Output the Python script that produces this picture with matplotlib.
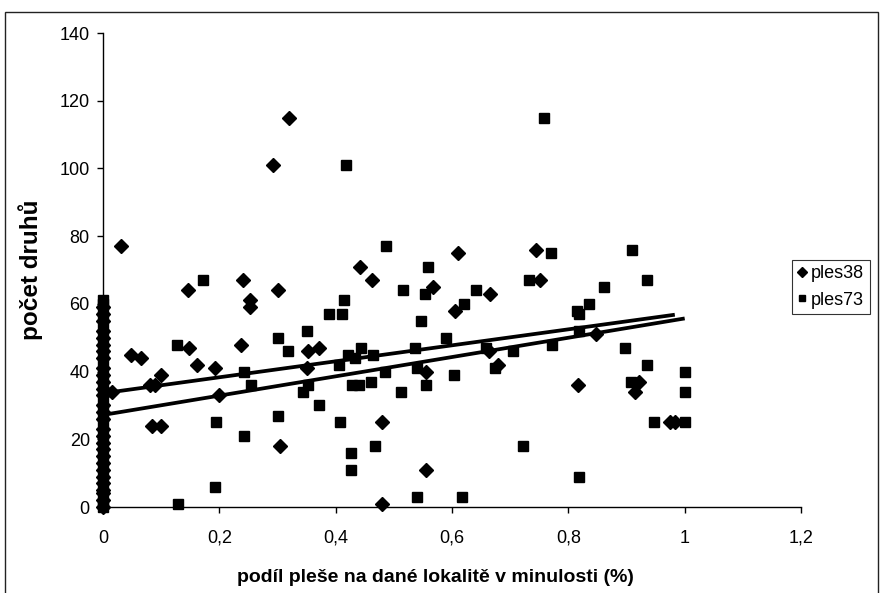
import numpy as np
import matplotlib.pyplot as plt
from matplotlib.patches import Rectangle
from matplotlib.ticker import FuncFormatter

plt.rcParams['font.family'] = ['Liberation Sans', 'DejaVu Sans']

# ples38 - sites with x = 0 and the rest
x38_zero = [0] * 29
y38_zero = [0, 2, 4, 5, 7, 9, 11, 13, 15, 17, 19, 21, 23, 26, 28, 30, 33, 35,
            37, 39, 41, 44, 46, 48, 50, 52, 55, 57, 59]
x38 = [0.015, 0.031, 0.048, 0.065, 0.080, 0.090, 0.084, 0.100, 0.100, 0.146,
       0.148, 0.162, 0.192, 0.200, 0.237, 0.241, 0.253, 0.253, 0.293, 0.300,
       0.304, 0.320, 0.350, 0.352, 0.372, 0.442, 0.462, 0.479, 0.480, 0.555,
       0.556, 0.568, 0.605, 0.610, 0.663, 0.665, 0.679, 0.744, 0.751, 0.816,
       0.848, 0.914, 0.922, 0.974, 0.983]
y38 = [34, 77, 45, 44, 36, 36, 24, 24, 39, 64,
       47, 42, 41, 33, 48, 67, 61, 59, 101, 64,
       18, 115, 41, 46, 47, 71, 67, 25, 1, 11,
       40, 65, 58, 75, 46, 63, 42, 76, 67, 36,
       51, 34, 37, 25, 25]

# ples73
x73_zero = [0] * 30
y73_zero = [0, 1, 3, 6, 8, 10, 12, 14, 16, 18, 20, 22, 25, 27, 29, 31, 34, 36,
            38, 40, 43, 45, 47, 49, 51, 53, 56, 58, 60, 61]
x73 = [0.127, 0.129, 0.172, 0.192, 0.195, 0.243, 0.243, 0.254, 0.300, 0.300,
       0.318, 0.343, 0.351, 0.353, 0.371, 0.388, 0.410, 0.406, 0.407, 0.415,
       0.418, 0.421, 0.427, 0.427, 0.428, 0.433, 0.440, 0.443, 0.460, 0.464,
       0.467, 0.485, 0.486, 0.513, 0.515, 0.536, 0.540, 0.540, 0.546, 0.553,
       0.556, 0.559, 0.589, 0.603, 0.617, 0.621, 0.641, 0.659, 0.674, 0.705,
       0.722, 0.733, 0.758, 0.770, 0.772, 0.814, 0.818, 0.818, 0.818, 0.836,
       0.861, 0.898, 0.908, 0.909, 0.935, 0.935, 0.947, 1.0, 1.0, 1.0]
y73 = [48, 1, 67, 6, 25, 40, 21, 36, 50, 27,
       46, 34, 52, 36, 30, 57, 57, 42, 25, 61,
       101, 45, 16, 11, 36, 44, 36, 47, 37, 45,
       18, 40, 77, 34, 64, 47, 41, 3, 55, 63,
       36, 71, 50, 39, 3, 60, 64, 47, 41, 46,
       18, 67, 115, 75, 48, 58, 57, 52, 9, 60,
       65, 47, 37, 76, 67, 42, 25, 40, 34, 25]

# linear trend lines (intercept, slope)
trend38 = (33.6, 23.6)
trend73 = (27.2, 28.5)

fig = plt.figure(figsize=(8.82, 5.93), dpi=100)
ax = fig.add_axes([0.1168, 0.145, 0.7914, 0.7993])

X38 = np.array(x38_zero + x38)
Y38 = np.array(y38_zero + y38)
X73 = np.array(x73_zero + x73)
Y73 = np.array(y73_zero + y73)

ax.plot(X38, Y38, 'D', color='black', ms=7, label='ples38', clip_on=False)
ax.plot(X73, Y73, 's', color='black', ms=6.6, label='ples73', clip_on=False)

for (b0, b1), X in ((trend38, X38), (trend73, X73)):
    xs = np.array([X.min(), X.max()])
    ax.plot(xs, b0 + b1 * xs, color='black', lw=2.7, solid_capstyle='butt')

ax.set_xlim(0, 1.2)
ax.set_ylim(0, 140)
ax.set_xticks(np.arange(0, 1.21, 0.2))
ax.set_yticks(np.arange(0, 141, 20))
ax.xaxis.set_major_formatter(FuncFormatter(
    lambda v, p: ('%g' % round(v, 1)).replace('.', ',')))
for s in ('top', 'right'):
    ax.spines[s].set_visible(False)
for s in ('left', 'bottom'):
    ax.spines[s].set_linewidth(1.0)
ax.tick_params(direction='out', length=4.5, width=1, labelsize=13, pad=5)
ax.tick_params(axis='x', pad=12)

ax.set_xlabel('podíl pleše na dané lokalitě v minulosti (%)',
              fontsize=14, fontweight='bold')
ax.xaxis.set_label_coords(0.476, -0.13)
ax.set_ylabel('počet druhů', fontsize=17.5, fontweight='bold')
ax.yaxis.set_label_coords(-0.086, 0.5)

leg = ax.legend(loc='center left', bbox_to_anchor=(792 / 882, 0.516),
                bbox_transform=fig.transFigure, frameon=True, fancybox=False,
                edgecolor='black', fontsize=13, handlelength=0.5,
                handletextpad=0.25, borderpad=0.3, labelspacing=0.5,
                borderaxespad=0, markerscale=0.75)
leg.get_frame().set_linewidth(0.8)

# outer chart border
fig.patches.append(Rectangle((5 / 882, -0.05), 873 / 882, 1.05 - 12 / 593,
                             transform=fig.transFigure, fill=False,
                             edgecolor='#222222', lw=1.0))

fig.savefig('out.png', dpi=100)
